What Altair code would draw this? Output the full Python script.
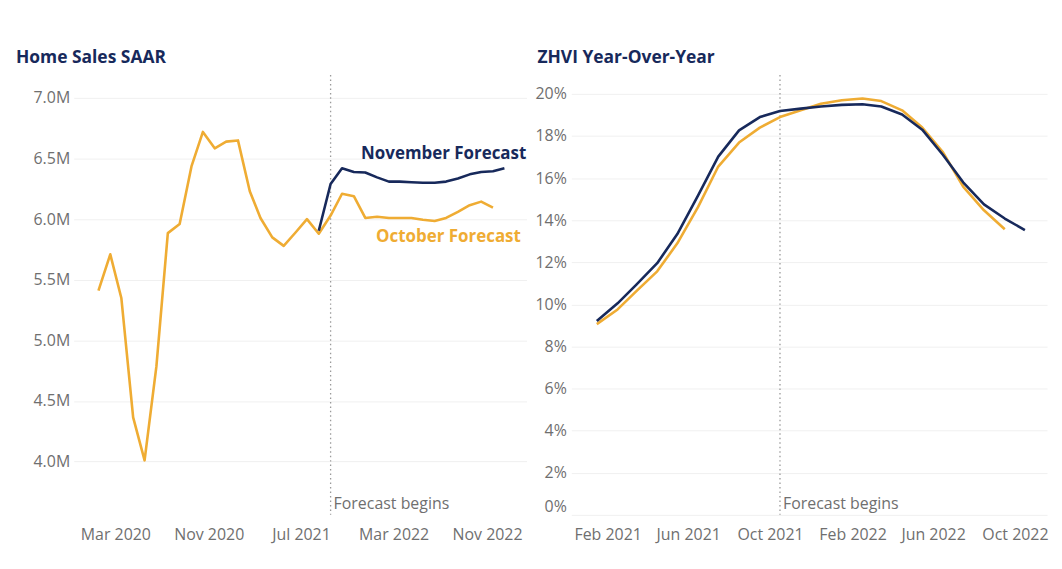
import altair as alt
import pandas as pd

# ---------------- data ----------------
# Home Sales SAAR (millions)
oct_sales_start = "2020-01-01"
oct_sales = [5.41, 5.71, 5.35, 4.365, 4.01, 4.785, 5.885, 5.96, 6.435, 6.72, 6.585, 6.64,
             6.65, 6.23, 6.01, 5.85, 5.78, 5.89, 6.00, 5.88, 6.03, 6.21, 6.19, 6.01,
             6.02, 6.01, 6.01, 6.01, 5.995, 5.985, 6.01, 6.06, 6.115, 6.145, 6.095]
nov_sales_start = "2021-08-01"
nov_sales = [5.905, 6.29, 6.42, 6.39, 6.385, 6.345, 6.31, 6.31, 6.305, 6.30, 6.30, 6.31,
             6.335, 6.37, 6.39, 6.395, 6.42]

# ZHVI year-over-year (%)
oct_zhvi_start = "2021-01-01"
oct_zhvi = [9.06, 9.76, 10.63, 11.57, 12.9, 14.63, 16.55, 17.69, 18.4, 18.9, 19.22, 19.53,
            19.7, 19.78, 19.66, 19.22, 18.4, 17.22, 15.6, 14.47, 13.57]
nov_zhvi_start = "2021-01-01"
nov_zhvi = [9.21, 10.05, 10.94, 11.96, 13.34, 15.18, 17.02, 18.27, 18.9, 19.19, 19.3, 19.4,
            19.48, 19.51, 19.4, 19.02, 18.3, 17.1, 15.8, 14.75, 14.08, 13.53]

sales_forecast_start = "2021-09-01"
zhvi_forecast_start = "2021-10-01"

sales_ticks = ["2020-03-01", "2020-11-01", "2021-07-01", "2022-03-01", "2022-11-01"]
zhvi_ticks = ["2021-02-01", "2021-06-01", "2021-10-01", "2022-02-01", "2022-06-01", "2022-10-01"]
sales_yticks = [4.0, 4.5, 5.0, 5.5, 6.0, 6.5, 7.0]
zhvi_yticks = [0, 2, 4, 6, 8, 10, 12, 14, 16, 18, 20]

title_left = "Home Sales SAAR"
title_right = "ZHVI Year-Over-Year"
label_nov = "November Forecast"
label_oct = "October Forecast"
label_fc = "Forecast begins"

# ---------------- style ----------------
FONT = "Open Sans"
NAVY = "#17295b"
ORANGE = "#efac33"
GRAY = "#6f6f6f"
GRID = "#f0f0f0"
H = 442


def series(start, vals, name):
    return pd.DataFrame({
        "date": pd.date_range(start, periods=len(vals), freq="MS"),
        "value": vals,
        "series": name,
    })


def panel(oct_df, nov_df, fc_date, xdomain, xticks, ydomain, yticks, ylabel_expr,
          width, title, title_dx, label_offset, ylabel_pad, yflush, with_labels):
    x = alt.X("date:T",
              scale=alt.Scale(domain=xdomain),
              axis=alt.Axis(values=xticks, format="%b %Y", title=None, grid=False,
                            domain=False, ticks=False, labelFlush=False,
                            labelOverlap=False, labelOffset=label_offset,
                            labelPadding=12, labelFontSize=16, labelFont=FONT,
                            labelColor=GRAY))
    y = alt.Y("value:Q",
              scale=alt.Scale(domain=ydomain, nice=False, zero=False),
              axis=alt.Axis(values=yticks, labelExpr=ylabel_expr, title=None,
                            grid=True, gridColor=GRID, gridWidth=1, domain=False,
                            ticks=False, labelPadding=ylabel_pad, labelFontSize=16,
                            labelFont=FONT, labelColor=GRAY, labelFlush=yflush))

    fc = pd.DataFrame({"date": [pd.Timestamp(fc_date)], "label": [label_fc]})
    rule = alt.Chart(fc).mark_rule(color="#9a9a9a", strokeDash=[1.5, 3],
                                   strokeWidth=1.3).encode(x="date:T")
    fc_text = alt.Chart(fc).mark_text(align="left", baseline="alphabetic", dx=3, dy=-6,
                                      font=FONT, fontSize=16, color=GRAY).encode(
        x="date:T", y=alt.value(H), text="label:N")

    oct_line = alt.Chart(oct_df).mark_line(color=ORANGE, strokeWidth=2.6,
                                           strokeJoin="round").encode(x=x, y=y)
    nov_line = alt.Chart(nov_df).mark_line(color=NAVY, strokeWidth=2.6,
                                           strokeJoin="round").encode(x="date:T", y="value:Q")
    layers = [rule, fc_text, oct_line, nov_line]

    if with_labels:
        nov_last = nov_df.tail(1).assign(label=label_nov)
        oct_last = oct_df.tail(1).assign(label=label_oct)
        nov_lab = alt.Chart(nov_last).mark_text(
            align="right", baseline="alphabetic", dx=22, dy=-9, font=FONT,
            fontSize=17, fontWeight="bold", color=NAVY).encode(
            x="date:T", y="value:Q", text="label:N")
        oct_lab = alt.Chart(oct_last).mark_text(
            align="right", baseline="alphabetic", dx=28, dy=34, font=FONT,
            fontSize=17, fontWeight="bold", color=ORANGE).encode(
            x="date:T", y="value:Q", text="label:N")
        layers += [nov_lab, oct_lab]

    return alt.layer(*layers).properties(
        width=width, height=H,
        title=alt.TitleParams(title, anchor="start", frame="group", dx=title_dx,
                              font=FONT, fontSize=17.5, fontWeight="bold",
                              color=NAVY, offset=8),
    )


left = panel(series(oct_sales_start, oct_sales, "October"),
             series(nov_sales_start, nov_sales, "November"),
             sales_forecast_start, ["2019-10-28", "2023-01-28"], sales_ticks,
             [3.56, 7.19], sales_yticks, "format(datum.value, '.1f') + 'M'",
             455, title_left, -58, -6, 4, False, True)

right = panel(series(oct_zhvi_start, oct_zhvi, "October"),
              series(nov_zhvi_start, nov_zhvi, "November"),
              zhvi_forecast_start, ["2020-11-24", "2022-11-03"], zhvi_ticks,
              [0, 20.9], zhvi_yticks, "datum.value + '%'",
              478, title_right, -34, -10, 5, True, False)

chart = alt.hconcat(left, right, spacing=8).properties(
    padding={"left": 8, "top": 39, "right": 5, "bottom": 5},
    background="white",
).configure_view(stroke=None, strokeWidth=0)

chart.save("out.html", embed_options={"renderer": "svg", "actions": False})
